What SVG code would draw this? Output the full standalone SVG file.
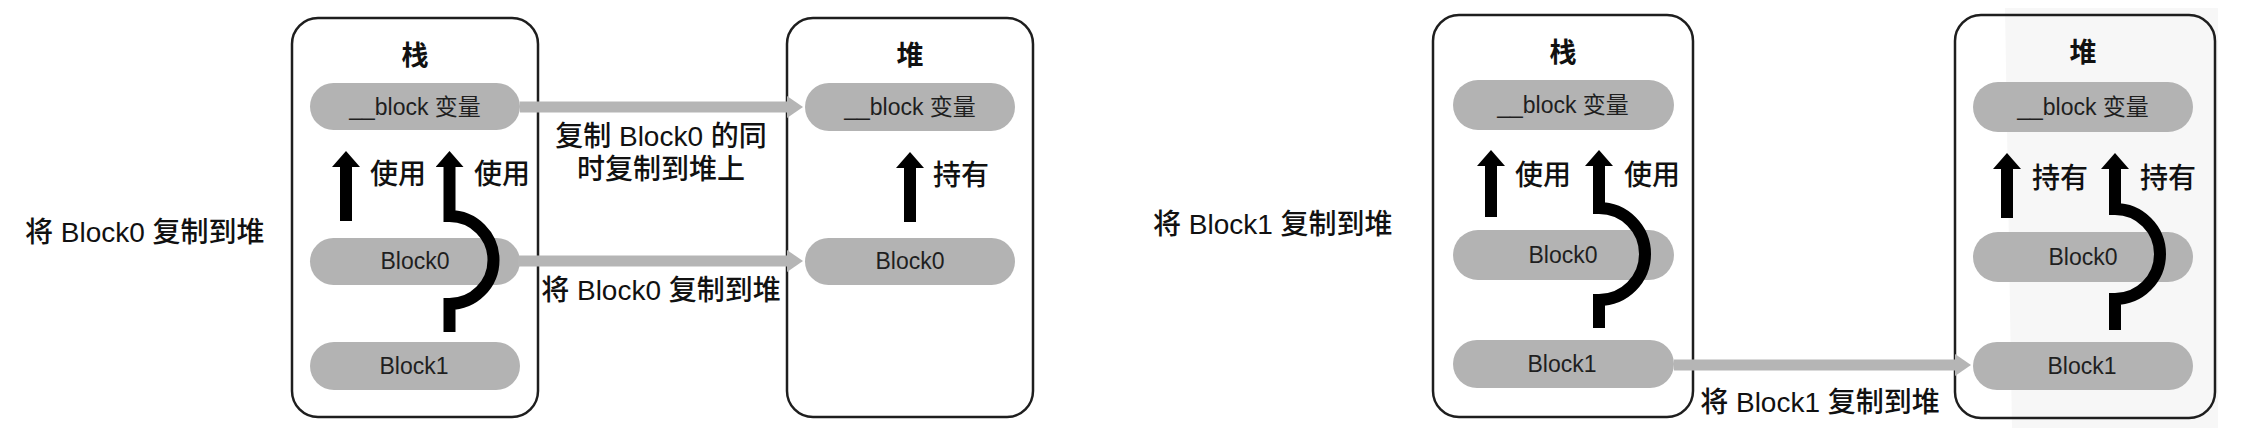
<svg xmlns="http://www.w3.org/2000/svg" width="2260" height="448" viewBox="0 0 2260 448">
<defs>
<style>
.box{fill:none;stroke:#1e1e1e;stroke-width:2.5}
.pill{fill:#b3b3b3}
.ptxt{font-family:"Liberation Sans","Noto Sans CJK SC",sans-serif;font-size:23px;fill:#1f1f1f;text-anchor:middle}
.title{font-family:"Liberation Sans","Noto Sans CJK SC",sans-serif;font-size:27px;font-weight:700;fill:#111;text-anchor:middle}
.lbl{font-family:"Liberation Sans","Noto Sans CJK SC",sans-serif;font-size:28px;font-weight:500;fill:#111}
.mid{text-anchor:middle}
.use{fill:none;stroke:#000;stroke-width:12;stroke-linejoin:miter;marker-start:url(#head)}
.copy{fill:none;stroke:#b5b5b5;stroke-width:11;marker-end:url(#ghead)}
</style>
<marker id="head" markerUnits="userSpaceOnUse" markerWidth="16" markerHeight="28" viewBox="0 0 16 28" refX="0" refY="14" orient="auto-start-reverse"><path d="M0,0 L16,14 L0,28 Z" fill="#000"/></marker>
<marker id="ghead" markerUnits="userSpaceOnUse" markerWidth="16" markerHeight="22" viewBox="0 0 16 22" refX="0" refY="11" orient="auto"><path d="M0,0 L16,11 L0,22 Z" fill="#b5b5b5"/></marker>
</defs>
<rect width="2260" height="448" fill="#fff"/>
<path d="M2005 8 H2218 V428 H2012 Z" fill="#f7f7f7"/>

<g id="p1-caption"><text class="lbl" x="25" y="242">将 Block0 复制到堆</text></g>

<g id="p1-stack">
<rect class="box" x="292" y="18" width="246" height="399" rx="26"/>
<text class="title" x="415" y="65">栈</text>
</g>
<g id="p1-stack-var"><rect class="pill" x="310" y="83" width="210" height="47" rx="23.5"/><text class="ptxt" x="415" y="115">__block 变量</text></g>
<g id="p1-stack-block0"><rect class="pill" x="310" y="238" width="210" height="47" rx="23.5"/><text class="ptxt" x="415" y="269">Block0</text></g>
<g id="p1-stack-block1"><rect class="pill" x="310" y="342" width="210" height="48" rx="24"/><text class="ptxt" x="414" y="374">Block1</text></g>

<g id="p1-heap">
<rect class="box" x="787" y="18" width="246" height="399" rx="26"/>
<text class="title" x="910" y="65">堆</text>
</g>
<g id="p1-heap-var"><rect class="pill" x="805" y="83" width="210" height="48" rx="24"/><text class="ptxt" x="910" y="115">__block 变量</text></g>
<g id="p1-heap-block0"><rect class="pill" x="805" y="238" width="210" height="47" rx="23.5"/><text class="ptxt" x="910" y="269">Block0</text></g>

<g id="p2-caption"><text class="lbl" x="1153" y="234">将 Block1 复制到堆</text></g>

<g id="p2-stack">
<rect class="box" x="1433" y="15" width="260" height="402" rx="26"/>
<text class="title" x="1563" y="62">栈</text>
</g>
<g id="p2-stack-var"><rect class="pill" x="1453" y="80" width="221" height="50" rx="25"/><text class="ptxt" x="1563" y="113">__block 变量</text></g>
<g id="p2-stack-block0"><rect class="pill" x="1453" y="230" width="221" height="50" rx="25"/><text class="ptxt" x="1563" y="263">Block0</text></g>
<g id="p2-stack-block1"><rect class="pill" x="1453" y="340" width="221" height="48" rx="24"/><text class="ptxt" x="1562" y="372">Block1</text></g>

<g id="p2-heap">
<rect class="box" x="1955" y="15" width="260" height="403" rx="26"/>
<text class="title" x="2083" y="62">堆</text>
</g>
<g id="p2-heap-var"><rect class="pill" x="1973" y="82" width="220" height="50" rx="25"/><text class="ptxt" x="2083" y="115">__block 变量</text></g>
<g id="p2-heap-block0"><rect class="pill" x="1973" y="232" width="220" height="50" rx="25"/><text class="ptxt" x="2083" y="265">Block0</text></g>
<g id="p2-heap-block1"><rect class="pill" x="1973" y="342" width="220" height="48" rx="24"/><text class="ptxt" x="2082" y="374">Block1</text></g>

<g id="connectors">
<path class="use" d="M346 167 V221"/>
<path class="use" d="M449.5 167 V216 A44 44 0 0 1 449.5 304 V332"/>
<path class="use" d="M910 168 V222"/>
<path class="copy" d="M520 107 H787"/>
<path class="copy" d="M518 261 H787"/>
<path class="use" d="M1491 166 V217"/>
<path class="use" d="M1599 166 V208 A46 46 0 0 1 1599 300 V328"/>
<path class="use" d="M2007 169 V218"/>
<path class="use" d="M2115 169 V209 A45 45 0 0 1 2115 299 V330"/>
<path class="copy" d="M1674 365 H1955"/>
<text class="lbl" x="370" y="184">使用</text>
<text class="lbl" x="474" y="184">使用</text>
<text class="lbl" x="933" y="185">持有</text>
<text class="lbl mid" x="661" y="146">复制 Block0 的同</text>
<text class="lbl mid" x="661" y="179">时复制到堆上</text>
<text class="lbl mid" x="661" y="300">将 Block0 复制到堆</text>
<text class="lbl" x="1515" y="185">使用</text>
<text class="lbl" x="1624" y="185">使用</text>
<text class="lbl" x="2032" y="188">持有</text>
<text class="lbl" x="2140" y="188">持有</text>
<text class="lbl mid" x="1820" y="412">将 Block1 复制到堆</text>
</g>
</svg>
